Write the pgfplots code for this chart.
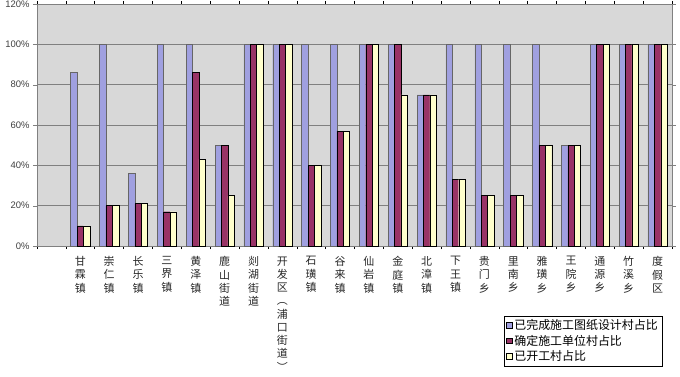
\documentclass[border=0pt]{standalone}
\usepackage{pgfplots}
\pgfplotsset{compat=1.18}
\usepackage{fontspec}
\setmainfont{Liberation Sans}
\newfontfamily\cjk{Noto Sans CJK SC}
\definecolor{sA}{RGB}{160,160,224}
\definecolor{sB}{RGB}{153,51,102}
\definecolor{sC}{RGB}{255,255,204}
\definecolor{bg}{RGB}{216,216,216}
\definecolor{gridc}{RGB}{128,128,128}
\pgfplotsset{ybar legend/.style={legend image code/.code={\path[##1, draw=black, line width=0.5bp] (0.5bp,-2.5bp) rectangle (6bp,3bp);}}}
\begin{document}
\begin{tikzpicture}
\path[use as bounding box] (-37bp,-131bp) rectangle (643bp,246bp);
\begin{axis}[
  at={(0,0)}, anchor=south west,
  scale only axis, width=635bp, height=242bp,
  xmin=-0.5, xmax=21.5, ymin=0, ymax=120,
  ybar=0pt, bar width=6.4bp,
  axis background/.style={fill=bg},
  axis line style={gridc},
  ymajorgrids, major grid style={gridc, line width=0.8bp},
  ytick={0,20,...,120},
  yticklabel={\pgfmathprintnumber{\tick}\%},
  /pgf/number format/assume math mode=true,
  yticklabel style={font=\fontsize{9.5}{10}\selectfont, text=black!75},
  tick align=outside, major tick length=4bp,
  ytick style={gridc},
  xtick={1,...,21}, 
  x tick style={draw=none},
  minor xtick={-0.5,0.5,...,21.5},
  minor x tick style={draw=black, line width=0.5bp},
  minor tick length=3bp,
  xticklabels={{甘\\霖\\镇},{崇\\仁\\镇},{长\\乐\\镇},{三\\界\\镇},{黄\\泽\\镇},{鹿\\山\\街\\道},{剡\\湖\\街\\道},{开\\发\\区\\︵\\浦\\口\\街\\道\\︶},{石\\璜\\镇},{谷\\来\\镇},{仙\\岩\\镇},{金\\庭\\镇},{北\\漳\\镇},{下\\王\\镇},{贵\\门\\乡},{里\\南\\乡},{雅\\璜\\乡},{王\\院\\乡},{通\\源\\乡},{竹\\溪\\乡},{度\\假\\区}},
  xticklabel style={align=center, anchor=north, font=\cjk\fontsize{11}{13.3}\selectfont, yshift=-3bp, text=black!85},
  legend style={at={(1,0)}, anchor=north east, xshift=-10bp, yshift=-70bp,
    draw=black, fill=white, font=\cjk\fontsize{12}{14}\selectfont,
    inner xsep=2bp, inner ysep=1.5bp, row sep=0bp,
    /tikz/every even column/.append style={column sep=1bp}},
  legend cell align=left,
]
\addplot[fill=sA, draw=black!60, line width=0.4bp] coordinates {
(1,86) (2,100) (3,36) (4,100) (5,100) (6,50) (7,100) (8,100) (9,100) (10,100) (11,100) (12,100) (13,75) (14,100) (15,100) (16,100) (17,100) (18,50) (19,100) (20,100) (21,100)};
\addplot[fill=sB, draw=black, line width=0.4bp] coordinates {
(1,10) (2,20) (3,21) (4,17) (5,86) (6,50) (7,100) (8,100) (9,40) (10,57) (11,100) (12,100) (13,75) (14,33) (15,25) (16,25) (17,50) (18,50) (19,100) (20,100) (21,100)};
\addplot[fill=sC, draw=black, line width=0.4bp] coordinates {
(1,10) (2,20) (3,21) (4,17) (5,43) (6,25) (7,100) (8,100) (9,40) (10,57) (11,100) (12,75) (13,75) (14,33) (15,25) (16,25) (17,50) (18,50) (19,100) (20,100) (21,100)};
\legend{已完成施工图纸设计村占比,确定施工单位村占比,已开工村占比}
\end{axis}
\end{tikzpicture}
\end{document}
